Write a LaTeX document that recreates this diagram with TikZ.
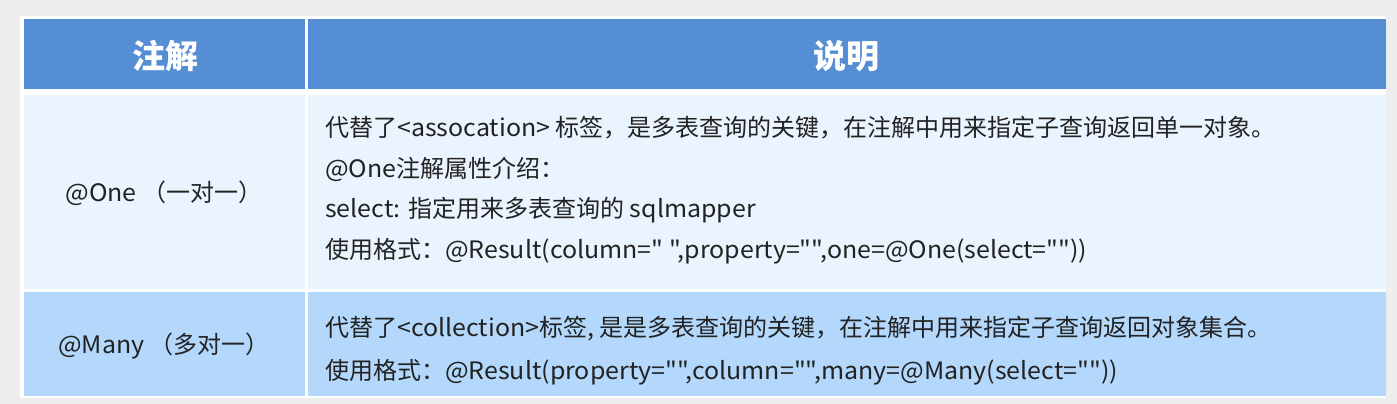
\documentclass[tikz,border=0pt]{standalone}
\usepackage{fontspec}
\newfontfamily\cjk{Noto Sans CJK SC}
\newfontfamily\lat{Noto Sans CJK SC}[FakeStretch=1.04]
\definecolor{pagebg}{HTML}{EEEEEE}
\definecolor{headblue}{HTML}{558ED5}
\definecolor{rowone}{HTML}{EAF4FE}
\definecolor{rowtwo}{HTML}{B3D8FC}
\definecolor{txt}{HTML}{222222}
\begin{document}
\begin{tikzpicture}[x=1pt,y=-1pt,
  head/.style={inner sep=0pt, text=white, font=\cjk\fontsize{33}{38}\selectfont\bfseries, anchor=base},
  body/.style={inner sep=0pt, text=txt, font=\cjk\fontsize{24}{28}\selectfont, anchor=base west},
  left/.style={inner sep=0pt, text=txt, font=\cjk\fontsize{24}{28}\selectfont, anchor=base}]
\useasboundingbox (0,0) rectangle (1397,404);
\fill[pagebg] (0,0) rectangle (1397,404);
\fill[white] (20,16) rectangle (1386,398);
% header
\fill[headblue] (24,19) rectangle (305,89);
\fill[headblue] (308,19) rectangle (1386,89);
% row 1
\fill[rowone] (24,95) rectangle (305,289);
\fill[rowone] (308,95) rectangle (1386,289);
% row 2
\fill[rowtwo] (24,292) rectangle (305,396);
\fill[rowtwo] (308,292) rectangle (1386,396);
% header text
\node[head] (h1) at (165,69) {注解};
\node[head] (h2) at (846,69) {说明};
% left column
\node[left] (one) at (164,201) {{\lat @One }（一对一）};
\node[left] (many) at (164,353) {{\lat @Many }（多对一）};
% row 1 description
\node[body] (r1a) at (325,136) {代替了{\lat <assocation> }标签，是多表查询的关键，在注解中用来指定子查询返回单一对象。};
\node[body] (r1b) at (325,177) {{\lat @One}注解属性介绍：};
\node[body] (r1c) at (325,217) {{\lat select: }指定用来多表查询的{\lat{} sqlmapper}};
\node[body] (r1d) at (325,258) {使用格式：{\lat @Result(column=" ",property="",one=@One(select=""))}};
% row 2 description
\node[body] (r2a) at (325,336) {代替了{\lat <collection>}标签{\lat , }是是多表查询的关键，在注解中用来指定子查询返回对象集合。};
\node[body] (r2b) at (325,379) {使用格式：{\lat @Result(property="",column="",many=@Many(select=""))}};
\end{tikzpicture}
\end{document}
